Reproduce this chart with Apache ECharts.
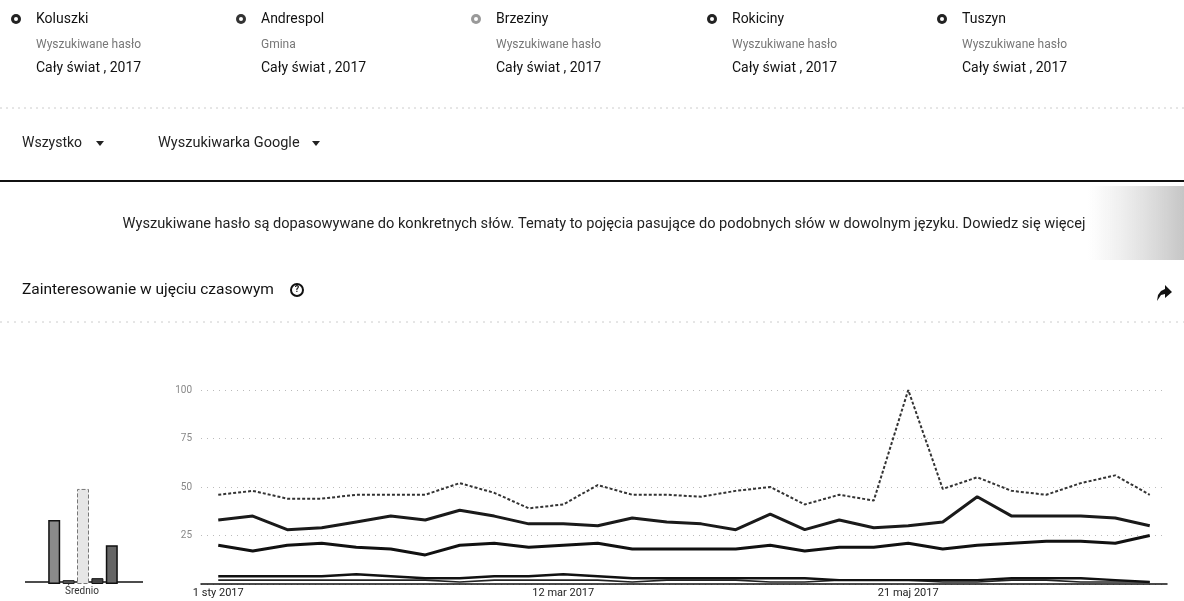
<!DOCTYPE html>
<html><head><meta charset="utf-8">
<script src="https://cdn.jsdelivr.net/npm/echarts@6/dist/echarts.min.js"></script>
<style>html,body{margin:0;padding:0;background:#fff;}#c{width:1184px;height:601px;}</style>
</head><body><div id="c"></div>
<script>
// ---- data ----
const seriesNames = ['Koluszki', 'Andrespol', 'Brzeziny', 'Rokiciny', 'Tuszyn'];
const seriesSubtitles = ['Wyszukiwane hasło', 'Gmina', 'Wyszukiwane hasło', 'Wyszukiwane hasło', 'Wyszukiwane hasło'];
const seriesScope = 'Cały świat , 2017';
const weeks = ['1 sty 2017','8 sty 2017','15 sty 2017','22 sty 2017','29 sty 2017','5 lut 2017','12 lut 2017','19 lut 2017','26 lut 2017','5 mar 2017','12 mar 2017','19 mar 2017','26 mar 2017','2 kwi 2017','9 kwi 2017','16 kwi 2017','23 kwi 2017','30 kwi 2017','7 maj 2017','14 maj 2017','21 maj 2017','28 maj 2017','4 cze 2017','11 cze 2017','18 cze 2017','25 cze 2017','2 lip 2017','9 lip 2017'];
const koluszki  = [33,35,28,29,32,35,33,38,35,31,31,30,34,32,31,28,36,28,33,29,30,32,45,35,35,35,34,30];
const andrespol = [2,2,2,2,2,2,2,1,2,2,2,2,1,2,2,2,1,1,2,2,2,1,1,2,2,1,1,1];
const brzeziny  = [46,48,44,44,46,46,46,52,47,39,41,51,46,46,45,48,50,41,46,43,100,49,55,48,46,52,56,46];
const rokiciny  = [4,4,4,4,5,4,3,3,4,4,5,4,3,3,3,3,3,3,2,2,2,2,2,3,3,3,2,1];
const tuszyn    = [20,17,20,21,19,18,15,20,21,19,20,21,18,18,18,18,20,17,19,19,21,18,20,21,22,22,21,25];
const averages  = [33, 2, 49, 3, 20];
const yTicks = [25, 50, 75, 100];
const averageLabel = 'Średnio';
const filterLabels = ['Wszystko', 'Wyszukiwarka Google'];
const infoText = 'Wyszukiwane hasło są dopasowywane do konkretnych słów. Tematy to pojęcia pasujące do podobnych słów w dowolnym języku. Dowiedz się więcej';
const sectionTitle = 'Zainteresowanie w ujęciu czasowym';

// ---- styles ----
const FONT = 'Roboto, "Noto Sans", sans-serif';
const lineStyles = [
  {color:'#1a1a1a', width:3, type:'solid'},
  {color:'#222', width:1.6, type:'solid'},
  {color:'#333', width:2, type:[3,2]},
  {color:'#111', width:2.4, type:'solid'},
  {color:'#111', width:3, type:'solid'}
];
const barStyles = [
  {color:'#8a8a8a', borderColor:'#111', borderWidth:1.5},
  {color:'#555', borderColor:'#222', borderWidth:1},
  {color:'#e6e6e6', borderColor:'#777', borderWidth:1, borderType:'dashed'},
  {color:'#444', borderColor:'#111', borderWidth:1},
  {color:'#666', borderColor:'#111', borderWidth:1.5}
];
const headerX = [16, 241, 476, 712, 942];
const iconColors = ['#222','#333','#999','#222','#222'];

const chart = echarts.init(document.getElementById('c'), null, {renderer:'canvas'});
const seriesData = [koluszki, andrespol, brzeziny, rokiciny, tuszyn];

const graphics = [];
seriesNames.forEach((n, i) => {
  const x = headerX[i];
  graphics.push({type:'circle', shape:{cx:x, cy:19, r:5}, style:{fill:iconColors[i]}});
  graphics.push({type:'circle', shape:{cx:x, cy:19, r:2}, style:{fill:'#fff'}});
  graphics.push({type:'text', x:x+20, y:19, style:{text:n, font:'14px '+FONT, fill:'#111', textVerticalAlign:'middle'}});
  graphics.push({type:'text', x:x+20, y:45, style:{text:seriesSubtitles[i], font:'12px '+FONT, fill:'#777', textVerticalAlign:'middle'}});
  graphics.push({type:'text', x:x+20, y:68, style:{text:seriesScope, font:'14px '+FONT, fill:'#111', textVerticalAlign:'middle'}});
});
graphics.push({type:'line', shape:{x1:0, y1:108, x2:1184, y2:108}, style:{stroke:'#ccc', lineWidth:1, lineDash:[2,4]}});
graphics.push({type:'text', x:22, y:143, style:{text:filterLabels[0], font:'14px '+FONT, fill:'#222', textVerticalAlign:'middle'}});
graphics.push({type:'polygon', shape:{points:[[96,141],[104,141],[100,146]]}, style:{fill:'#222'}});
graphics.push({type:'text', x:158, y:143, style:{text:filterLabels[1], font:'14.5px '+FONT, fill:'#222', textVerticalAlign:'middle'}});
graphics.push({type:'polygon', shape:{points:[[312,141],[320,141],[316,146]]}, style:{fill:'#222'}});
graphics.push({type:'line', shape:{x1:0, y1:181, x2:1184, y2:181}, style:{stroke:'#111', lineWidth:2}});
graphics.push({type:'rect', shape:{x:1088, y:186, width:96, height:74}, style:{fill:new echarts.graphic.LinearGradient(0,0,1,0,[{offset:0,color:'rgba(180,180,180,0)'},{offset:1,color:'rgba(150,150,150,0.55)'}])}});
graphics.push({type:'text', x:604, y:224, style:{text:infoText, font:'14.6px '+FONT, fill:'#222', textAlign:'center', textVerticalAlign:'middle'}});
graphics.push({type:'text', x:22, y:290, style:{text:sectionTitle, font:'15.5px '+FONT, fill:'#111', textVerticalAlign:'middle'}});
graphics.push({type:'circle', shape:{cx:297, cy:290, r:6}, style:{fill:'none', stroke:'#111', lineWidth:2}});
graphics.push({type:'text', x:297, y:290, style:{text:'?', font:'bold 9px '+FONT, fill:'#111', textAlign:'center', textVerticalAlign:'middle'}});
graphics.push({type:'polygon', shape:{points:[[1157,301],[1158,295],[1161,291],[1165,289],[1165,285],[1172,292],[1165,298],[1165,294],[1161,295]]}, style:{fill:'#111'}});
graphics.push({type:'line', shape:{x1:0, y1:322, x2:1184, y2:322}, style:{stroke:'#ccc', lineWidth:1, lineDash:[2,5]}});
graphics.push({type:'line', shape:{x1:25, y1:582, x2:143, y2:582}, style:{stroke:'#111', lineWidth:1.5}});
graphics.push({type:'text', x:82, y:591, style:{text:averageLabel, font:'10px '+FONT, fill:'#333', textAlign:'center', textVerticalAlign:'middle'}});

const option = {
  animation:false,
  textStyle:{fontFamily:FONT},
  graphic: graphics,
  grid:[
    {left:201, right:17, top:390, bottom:17},
    {left:47, width:72, top:390, bottom:17}
  ],
  xAxis:[
    {type:'category', gridIndex:0, data:weeks, boundaryGap:true,
     axisLine:{show:true, lineStyle:{color:'#111', width:1.5}}, axisTick:{show:false},
     axisLabel:{interval:(i)=>i%10===0, color:'#222', fontSize:11, margin:4, fontFamily:FONT}},
    {type:'category', gridIndex:1, data:seriesNames, show:false}
  ],
  yAxis:[
    {type:'value', gridIndex:0, min:0, max:100, interval:25,
     axisLine:{show:false}, axisTick:{show:false},
     axisLabel:{color:'#888', fontSize:10, margin:9, formatter:(v)=> yTicks.includes(v) ? String(v) : ''},
     splitLine:{show:true, lineStyle:{color:'#bbb', type:[1,5], width:1}}},
    {type:'value', gridIndex:1, min:0, max:100, show:false, splitLine:{show:false}}
  ],
  series: seriesNames.map((n,i)=>({
    name:n, type:'line', xAxisIndex:0, yAxisIndex:0, data:seriesData[i],
    showSymbol:false, symbol:'none', lineStyle:lineStyles[i], z: i===2 ? 3 : 2
  })).concat([{
    type:'bar', xAxisIndex:1, yAxisIndex:1, barWidth:12,
    data: averages.map((v,i)=>({value:v, itemStyle:barStyles[i]}))
  }])
};
chart.setOption(option);
</script></body></html>
